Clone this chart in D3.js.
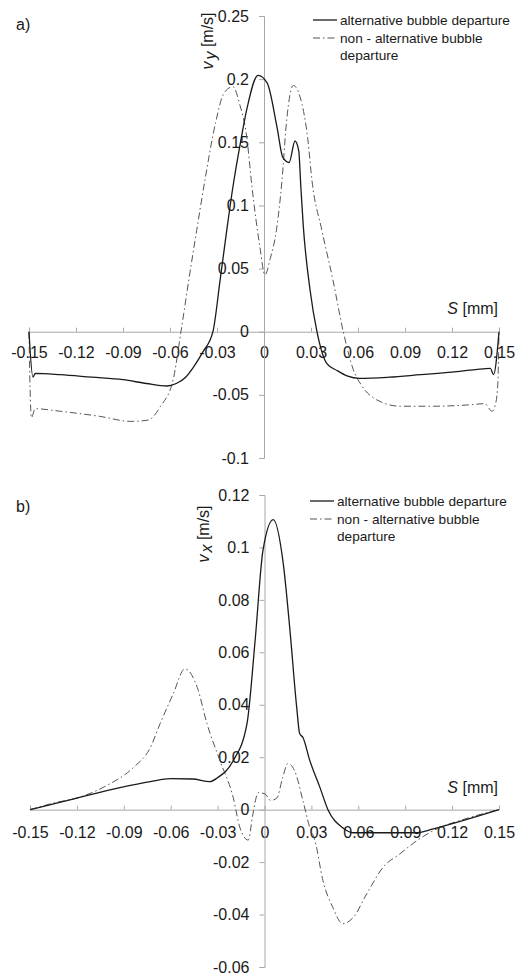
<!DOCTYPE html>
<html>
<head>
<meta charset="utf-8">
<title>Bubble departure velocity profiles</title>
<style>
    body { margin: 0; background: #fff; }
    .axis path, .axis line { stroke: #a8a8a8; }
</style>
</head>
<body>
<div id="chart"></div>
<script src="https://cdn.jsdelivr.net/npm/d3@7"></script>
<script>
// tick labels
var sTicks = [-0.15, -0.12, -0.09, -0.06, -0.03, 0, 0.03, 0.06, 0.09, 0.12, 0.15];
var vyTicks = [-0.1, -0.05, 0, 0.05, 0.1, 0.15, 0.2, 0.25];
var vxTicks = [-0.06, -0.04, -0.02, 0, 0.02, 0.04, 0.06, 0.08, 0.1, 0.12];
var seriesNames = ["alternative bubble departure", "non - alternative bubble", "departure"];

// a) v_y, alternative bubble departure
var vyAltS = [-0.15, -0.1475, -0.146, -0.13, -0.11, -0.09, -0.075, -0.062, -0.056, -0.05, -0.045, -0.039,
    -0.0326, -0.028, -0.0237, -0.0198, -0.015, -0.011, -0.0038, 0.002, 0.0083, 0.012, 0.016, 0.0198, 0.0222,
    0.0235, 0.025, 0.0294, 0.0338, 0.040, 0.047, 0.053, 0.061, 0.08, 0.10, 0.12, 0.135, 0.1445, 0.1465, 0.15];
var vyAlt = [0, -0.036, -0.033, -0.034, -0.036, -0.038, -0.041, -0.043, -0.041, -0.036, -0.028, -0.016,
    0, 0.041, 0.081, 0.115, 0.15, 0.176, 0.203, 0.197, 0.162, 0.138, 0.134, 0.151, 0.143,
    0.115, 0.085, 0.033, 0, -0.025, -0.031, -0.035, -0.037, -0.036, -0.034, -0.032, -0.030, -0.029, -0.034, 0];

// a) v_y, non-alternative bubble departure
var vyNonS = [-0.15, -0.1493, -0.1485, -0.146, -0.13, -0.105, -0.085, -0.074, -0.066, -0.058, -0.053, -0.048,
    -0.043, -0.0377, -0.031, -0.0255, -0.0198, -0.0155, -0.011, -0.0077, -0.0026, 0.0006, 0.004, 0.008, 0.0115,
    0.0145, 0.0187, 0.023, 0.028, 0.0306, 0.037, 0.044, 0.0506, 0.057, 0.062, 0.072, 0.087, 0.108, 0.13, 0.141,
    0.1455, 0.148, 0.1493, 0.15];
var vyNon = [0, -0.045, -0.068, -0.061, -0.063, -0.067, -0.071, -0.070, -0.059, -0.038, 0, 0.041,
    0.08, 0.12, 0.165, 0.189, 0.194, 0.180, 0.154, 0.115, 0.067, 0.045, 0.058, 0.081, 0.12,
    0.168, 0.195, 0.186, 0.152, 0.12, 0.08, 0.041, 0, -0.03, -0.042, -0.054, -0.059, -0.059, -0.058, -0.057,
    -0.063, -0.056, -0.04, 0];

// b) v_x, alternative bubble departure
var vxAltS = [-0.15, -0.12, -0.0925, -0.073, -0.06, -0.046, -0.035, -0.030, -0.020, -0.0112, -0.006, -0.001,
    0.0056, 0.012, 0.0163, 0.0206, 0.0225, 0.0246, 0.029, 0.0355, 0.0406, 0.050, 0.0566, 0.0975, 0.108, 0.15];
var vxAlt = [0, 0.0044, 0.0084, 0.0107, 0.0118, 0.0117, 0.0107, 0.0122, 0.0187, 0.0328, 0.0645, 0.0988,
    0.1106, 0.0938, 0.0683, 0.039, 0.029, 0.0275, 0.0187, 0.0084, 0, -0.0069, -0.0088, -0.0088, -0.0073, 0];

// b) v_x, non-alternative bubble departure
var vxNonS = [-0.15, -0.135, -0.118, -0.1, -0.084, -0.073, -0.0668, -0.0585, -0.0509, -0.043, -0.0368, -0.0285,
    -0.020, -0.0157, -0.0104, -0.0075, -0.004, 0.0003, 0.004, 0.008, 0.0115, 0.015, 0.0195, 0.0246, 0.029,
    0.0323, 0.0374, 0.0438, 0.050, 0.0566, 0.0655, 0.0758, 0.0867, 0.0975, 0.108, 0.129, 0.15];
var vxNon = [0, 0.0025, 0.0048, 0.0095, 0.016, 0.0237, 0.0328, 0.044, 0.0537, 0.0466, 0.0328, 0.0187,
    0.0046, -0.0069, -0.0116, -0.002, 0.0065, 0.006, 0.0035, 0.0045, 0.012, 0.0176, 0.0145, 0.0034, -0.0069,
    -0.0118, -0.0271, -0.0374, -0.0435, -0.0412, -0.032, -0.022, -0.0168, -0.0118, -0.008, -0.0034, 0];

var width = 532, height = 976;
var font = '"Liberation Sans", Arial, sans-serif';
var fmt = function (d) { return String(+d.toFixed(3)); };

var svg = d3.select("#chart").append("svg")
    .attr("width", width)
    .attr("height", height)
    .style("font-family", font);

function zip(xs, ys) {
    return xs.map(function (x, i) { return [x, ys[i]]; });
}

function panel(opt) {
    var x = d3.scaleLinear().domain([-0.15, 0.15]).range(opt.xr);
    var y = d3.scaleLinear().domain(opt.yd).range(opt.yr);
    var g = svg.append("g");

    // x axis through zero, ticks pointing up
    var xa = g.append("g").attr("class", "axis")
        .attr("transform", "translate(0," + y(0) + ")")
        .call(d3.axisBottom(x).tickValues(sTicks).tickFormat(fmt)
            .tickSizeInner(-4).tickSizeOuter(-4).tickPadding(opt.xpad));
    xa.attr("font-family", font).attr("font-size", 16);
    xa.selectAll("text").attr("fill", "#1a1a1a");

    var ya = g.append("g").attr("class", "axis")
        .attr("transform", "translate(" + x(0) + ",0)")
        .call(d3.axisLeft(y).tickValues(opt.yticks).tickFormat(fmt)
            .tickSizeInner(5).tickSizeOuter(5).tickPadding(10));
    ya.attr("font-family", font).attr("font-size", 16);
    ya.selectAll("text").attr("fill", "#1a1a1a");

    var line = d3.line()
        .x(function (d) { return x(d[0]); })
        .y(function (d) { return y(d[1]); })
        .curve(d3.curveMonotoneX);

    g.append("path").datum(zip(opt.nonS, opt.non))
        .attr("d", line)
        .attr("fill", "none")
        .attr("stroke", "#555")
        .attr("stroke-width", 1)
        .attr("stroke-dasharray", "7,3,1.5,3");

    g.append("path").datum(zip(opt.altS, opt.alt))
        .attr("d", line)
        .attr("fill", "none")
        .attr("stroke", "#1a1a1a")
        .attr("stroke-width", 1.3);

    // S [mm]
    var sl = g.append("text")
        .attr("x", opt.xr[1] - 1)
        .attr("y", opt.sy)
        .attr("text-anchor", "end")
        .style("font-size", "16px")
        .attr("fill", "#1a1a1a");
    sl.append("tspan").attr("font-style", "italic").text("S");
    sl.append("tspan").text(" [mm]");

    // y label, rotated
    var yl = g.append("text")
        .attr("transform", "translate(" + opt.ylab[0] + "," + opt.ylab[1] + ") rotate(-90)")
        .attr("text-anchor", "middle")
        .attr("dy", "0.35em")
        .style("font-size", "16px")
        .attr("fill", "#1a1a1a");
    yl.append("tspan").attr("font-style", "italic").text("v");
    yl.append("tspan").attr("font-style", "italic").attr("dy", 3).attr("dx", 2).text(opt.sub);
    yl.append("tspan").attr("dy", -3).text(" [m/s]");

    // panel letter
    g.append("text")
        .attr("x", 16).attr("y", opt.letterY)
        .style("font-size", "16px")
        .attr("fill", "#1a1a1a")
        .text(opt.letter);

    // legend
    var lx = opt.leg[0], ly = opt.leg[1];
    g.append("line")
        .attr("x1", lx).attr("x2", lx + 24)
        .attr("y1", ly).attr("y2", ly)
        .attr("stroke", "#1a1a1a").attr("stroke-width", 1.3);
    g.append("line")
        .attr("x1", lx).attr("x2", lx + 24)
        .attr("y1", ly + 18).attr("y2", ly + 18)
        .attr("stroke", "#555").attr("stroke-width", 1)
        .attr("stroke-dasharray", "7,3,1.5,3");
    var lt = g.selectAll(".leg").data(seriesNames).enter().append("text")
        .attr("class", "leg")
        .attr("x", lx + 27)
        .attr("y", function (d, i) { return ly + 5 + i * 17.5; })
        .style("font-size", "14px")
        .attr("fill", "#1a1a1a")
        .text(function (d) { return d; });

    // fit the first legend line to the width it has in the original
    var w = lt.node().getComputedTextLength();
    if (w > 0) {
        var fs = Math.max(11, Math.min(17, 14 * opt.legW / w));
        lt.style("font-size", fs + "px");
    }
}

panel({
    xr: [29, 499], yd: [-0.1, 0.25], yr: [458, 16], yticks: vyTicks,
    altS: vyAltS, alt: vyAlt, nonS: vyNonS, non: vyNon,
    xpad: 15, sy: 314, ylab: [207, 41], sub: "y",
    letter: "a)", letterY: 30, leg: [313, 20], legW: 170
});

panel({
    xr: [30, 499], yd: [-0.06, 0.12], yr: [967, 495], yticks: vxTicks,
    altS: vxAltS, alt: vxAlt, nonS: vxNonS, non: vxNon,
    xpad: 17, sy: 793, ylab: [203, 534], sub: "x",
    letter: "b)", letterY: 512, leg: [310, 501], legW: 170
});
</script>
</body>
</html>
